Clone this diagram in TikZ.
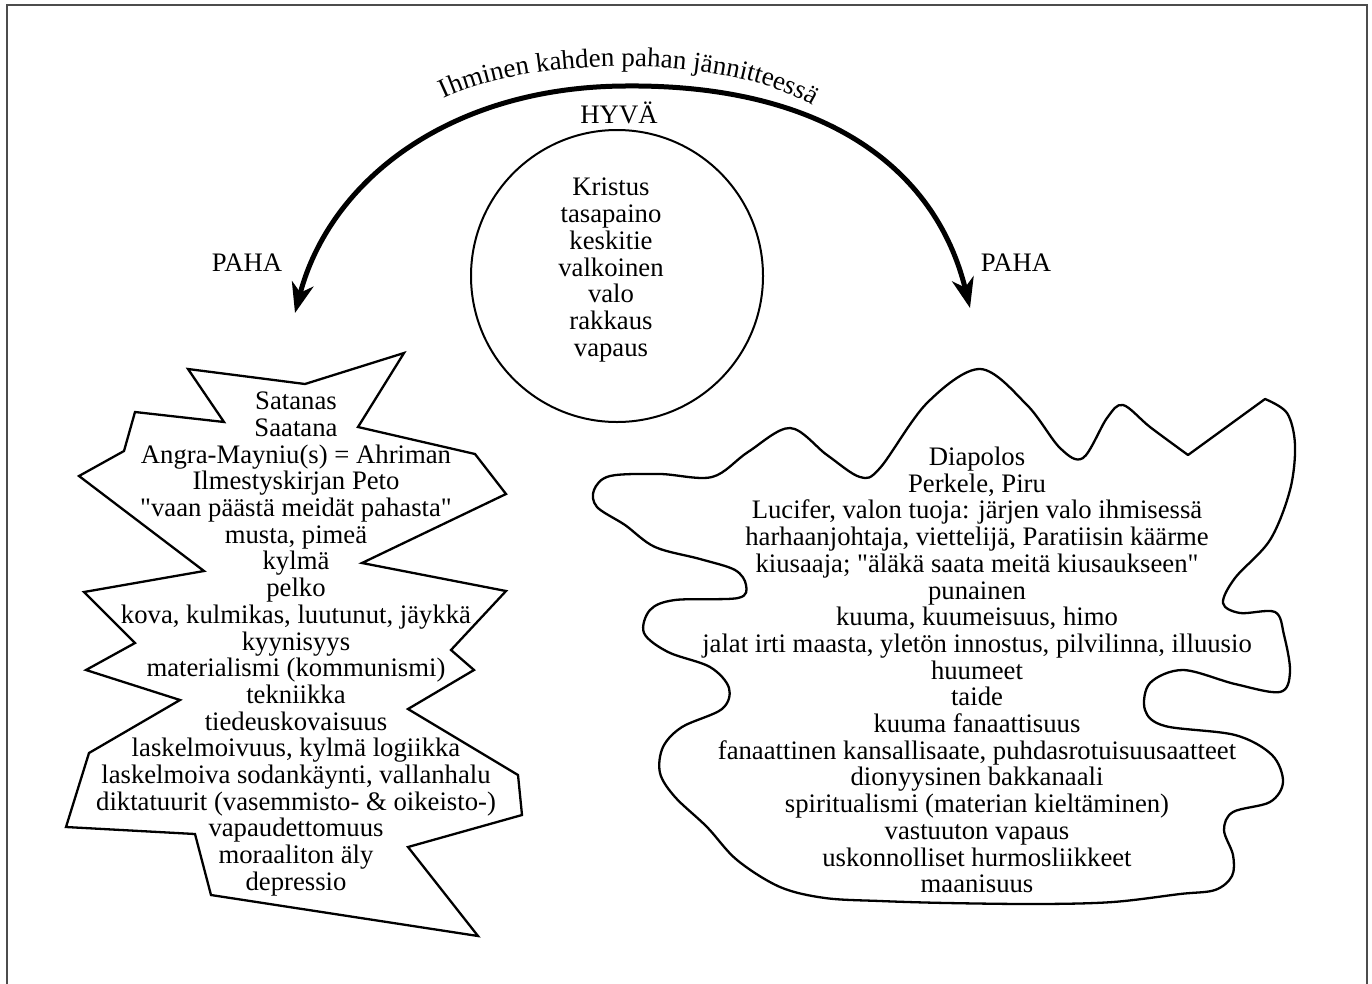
\documentclass[tikz,border=0pt]{standalone}
\usepackage{fontspec}
\setmainfont{Liberation Serif}
\usetikzlibrary{arrows.meta, decorations.text}

\begin{document}
\begin{tikzpicture}[x=1pt, y=-1pt,
    teksti/.style={align=center, inner sep=0pt, font={\fontsize{26.7}{26.7}\selectfont\lineskiplimit-20pt}},
    reuna/.style={draw, line width=2.3pt},
    kaari/.style={line width=5pt, {Stealth[length=30pt, width=22pt, inset=9pt]}-{Stealth[length=30pt, width=22pt, inset=9pt]}}]
\useasboundingbox (0,0) rectangle (1372,983);
\draw[black!70, line width=1.3pt] (7,990) -- (7,5) -- (1367,5) -- (1367,990);

\coordinate (vasen) at (295,313);
\coordinate (huippu) at (625,86);
\coordinate (oikea) at (970,308);
\draw[kaari] (vasen) .. controls (330,180) and (450,87) .. (huippu) .. controls (820,84) and (935,165) .. (oikea);
\path[decorate, decoration={text along path, text align=center,
    text={|\fontsize{27}{27}\selectfont|Ihminen kahden pahan jännitteessä}}]
    (440,100) .. controls (525,56) and (730,52) .. (816,108);

\node[teksti] (hyva) at (619,113) {HYVÄ};
\node[teksti] (pahavasen) at (247,263) {PAHA};
\node[teksti] (pahaoikea) at (1016,263) {PAHA};

\node[draw, circle, line width=2pt, minimum size=292pt, inner sep=0pt] (ympyra) at (617,276) {};
\node[teksti] (kristus) at (611,270) {Kristus\\tasapaino\\keskitie\\valkoinen\\valo\\rakkaus\\vapaus};

\draw[reuna, line join=miter] (188,369) -- (305,384) -- (404,353) -- (358,427) -- (475,454) -- (506,494)
    -- (362,563) -- (506,591) -- (451,650) -- (474,670) -- (408,709) -- (518,775) -- (522,815)
    -- (408,847) -- (478,936) -- (211,895) -- (195,834) -- (66,827) -- (89,753) -- (180,700)
    -- (86,670) -- (135,643) -- (84,592) -- (204,571) -- (79,476) -- (124,451) -- (135,412)
    -- (224,422) -- cycle;
\node[teksti] (satanas) at (296,644) {Satanas\\Saatana\\Angra-Mayniu(s) = Ahriman\\Ilmestyskirjan Peto\\\textquotedbl vaan päästä meidät pahasta\textquotedbl\\musta, pimeä\\kylmä\\pelko\\kova, kulmikas, luutunut, jäykkä\\kyynisyys\\materialismi (kommunismi)\\tekniikka\\tiedeuskovaisuus\\laskelmoivuus, kylmä logiikka\\laskelmoiva sodankäynti, vallanhalu\\diktatuurit (vasemmisto- \& oikeisto-)\\vapaudettomuus\\moraaliton äly\\depressio};

\draw[reuna, line join=round] plot[smooth, tension=0.55] coordinates {
    (1265,399) (1287,413) (1295,445) (1290,490) (1270,540) (1235,578) (1223,603) (1240,613)
    (1275,612) (1284,635) (1290,672) (1280,692) (1235,684) (1183,670) (1150,683) (1145,710)
    (1165,726) (1235,735) (1272,755) (1283,782) (1270,802) (1233,812) (1224,830) (1233,855)
    (1232,876) (1215,890) (1180,894) (1113,902) (1040,904) (947,903) (880,901) (825,898)
    (780,887) (737,860) (707,827) (675,797) (660,773) (663,747) (682,727) (722,709)
    (729,688) (710,667) (668,652) (644,633) (650,610) (675,600) (738,598) (746,585)
    (735,570) (700,559) (655,547) (625,525) (597,507) (594,490) (610,476) (660,474)
    (712,477) (748,452) (790,428) (827,455) (860,477) (880,468) (927,403) (980,369)
    (1027,405) (1060,448) (1083,458) (1107,418) (1123,405) (1150,427) (1188,455)} -- cycle;
\node[teksti] (diapolos) at (977,670) {Diapolos\\Perkele, Piru\\Lucifer, valon tuoja: järjen valo ihmisessä\\harhaanjohtaja, viettelijä, Paratiisin käärme\\kiusaaja; \textquotedbl äläkä saata meitä kiusaukseen\textquotedbl\\punainen\\kuuma, kuumeisuus, himo\\jalat irti maasta, yletön innostus, pilvilinna, illuusio\\huumeet\\taide\\kuuma fanaattisuus\\fanaattinen kansallisaate, puhdasrotuisuusaatteet\\dionyysinen bakkanaali\\spiritualismi (materian kieltäminen)\\vastuuton vapaus\\uskonnolliset hurmosliikkeet\\maanisuus};
\end{tikzpicture}
\end{document}
